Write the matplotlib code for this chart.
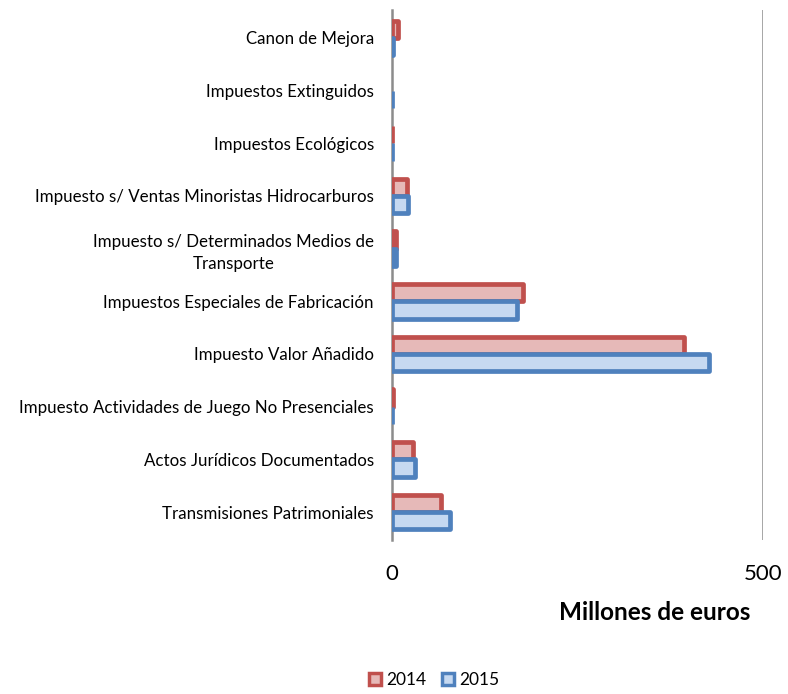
import numpy as np
import matplotlib.pyplot as plt
from matplotlib.patches import Patch

plt.rcParams['font.family'] = ['Lato', 'DejaVu Sans']

# -----------------------------------------------------------
# Datos (millones de euros)
# -----------------------------------------------------------

categorias = [
    "Transmisiones Patrimoniales",
    "Actos Jurídicos Documentados",
    "Impuesto Actividades de Juego No Presenciales",
    "Impuesto Valor Añadido",
    "Impuestos Especiales de Fabricación",
    "Impuesto s/ Determinados Medios de\nTransporte",
    "Impuesto s/ Ventas Minoristas Hidrocarburos",
    "Impuestos Ecológicos",
    "Impuestos Extinguidos",
    "Canon de Mejora",
]

valores_2014 = [66, 28, 1, 393, 176, 5, 20, 0.5, 0, 8.5]
valores_2015 = [78, 31, 0.5, 428, 169, 5, 21, 0.5, 0.5, 1]

series = ["2014", "2015"]
bordes = ["#C0504D", "#4F81BD"]
rellenos = ["#E6B9B8", "#C6D9F1"]

# -----------------------------------------------------------
# Figura
# -----------------------------------------------------------

fig = plt.figure(figsize=(7.88, 6.94), dpi=100)
ax = fig.add_axes([0.4975, 0.222, 0.4706, 0.7636])

y = np.arange(len(categorias))
alto = 0.33

for i, vals in enumerate([valores_2014, valores_2015]):
    vals = np.array(vals, dtype=float)
    desplaz = alto / 2 if i == 0 else -alto / 2
    bars = ax.barh(y + desplaz, vals, height=alto, color=rellenos[i],
                   edgecolor=bordes[i], linewidth=3.4, zorder=3)
    for b, v in zip(bars, vals):
        b.set_joinstyle("round")
        if v == 0:
            b.set_edgecolor("none")

ax.set_xlim(0, 500)
ax.set_ylim(-0.53, len(categorias) - 0.47)
ax.set_xticks([0, 500])
ax.set_xticklabels(["0", "500"], fontsize=16)
ax.set_yticks(y)
ax.set_yticklabels(categorias, fontsize=12.2)
for lbl in ax.get_yticklabels():
    lbl.set_multialignment("center")
    lbl.set_linespacing(1.45)
ax.tick_params(axis="both", length=0)
ax.tick_params(axis="y", pad=13)
ax.tick_params(axis="x", pad=17)

for s in ["top", "right", "bottom"]:
    ax.spines[s].set_visible(False)
ax.spines["left"].set_color("#8C8C8C")
ax.spines["left"].set_linewidth(1.8)
ax.axvline(500, color="#8C8C8C", linewidth=1.8, zorder=2)

ax.set_xlabel("Millones de euros", fontsize=17.5, fontweight="bold")
ax.xaxis.set_label_coords(0.709, -0.115)

handles = [Patch(facecolor=rellenos[i], edgecolor=bordes[i], linewidth=2.5)
           for i in range(2)]
fig.legend(handles, series, loc="center", bbox_to_anchor=(0.551, 0.02),
           ncol=2, frameon=False, fontsize=12.5, handlelength=0.7,
           handleheight=0.7, handletextpad=0.3, columnspacing=0.9)

fig.savefig("out.png", dpi=100)
